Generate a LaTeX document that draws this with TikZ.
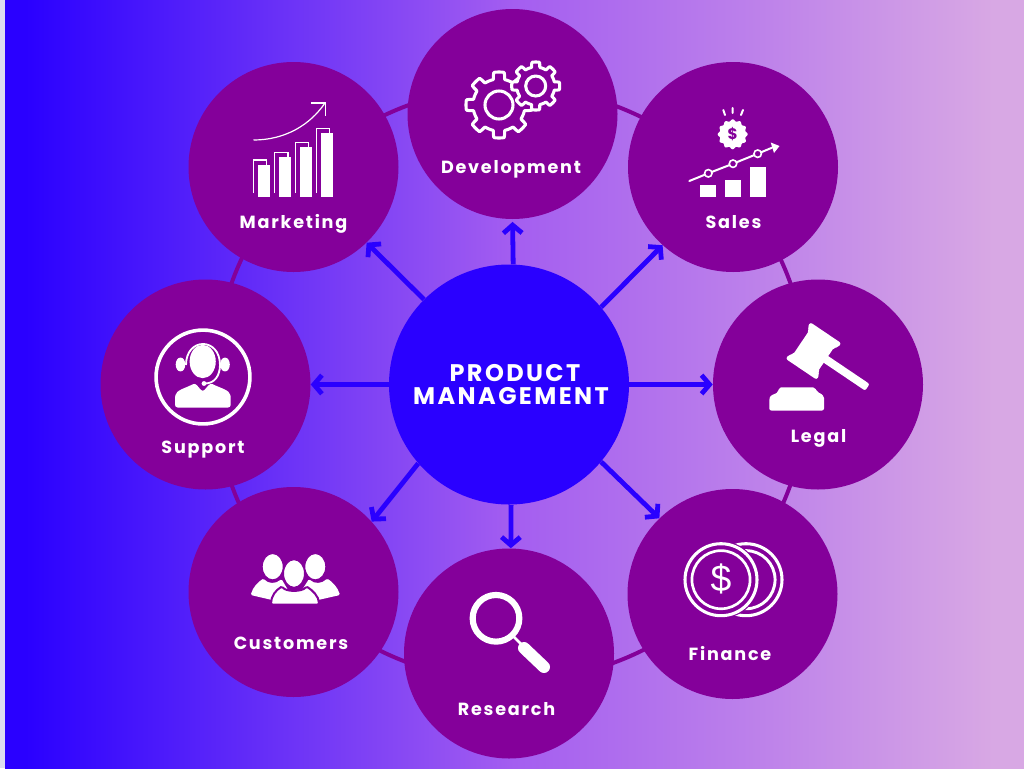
\documentclass[tikz,border=0pt]{standalone}
\usepackage{fontspec}
\setmainfont{Poppins}
\newfontfamily\dollarfont{Liberation Sans}
\usetikzlibrary{arrows.meta}
\definecolor{hub}{HTML}{2A00FF}
\definecolor{petal}{HTML}{84009A}
\definecolor{bgm}{HTML}{A45EF0}
\definecolor{bgr}{HTML}{D8A8E4}
\definecolor{edgestrip}{HTML}{DDDDF0}
\pgfdeclarehorizontalshading{bggrad}{100bp}{
 color(0bp)=(hub); color(26bp)=(hub); color(50bp)=(bgm); color(62.5bp)=(bgr!50!bgm); color(73.5bp)=(bgr); color(100bp)=(bgr)}
\tikzset{
 x=0.75pt,y=-0.75pt,
 petalnode/.style={circle,fill=petal,minimum size=157.5pt,inner sep=0pt},
 hubnode/.style={circle,fill=hub,minimum size=180pt,inner sep=0pt},
 hubtext/.style={text=white,font=\fontsize{18}{18}\selectfont\bfseries,inner sep=0pt,anchor=base},
 lab/.style={text=white,font=\fontsize{13.2}{13.2}\selectfont\bfseries,inner sep=0pt,anchor=base},
 spoke/.style={draw=hub,line width=3.6pt,-{Straight Barb[length=6pt,width=14pt,line width=3.6pt]}},
 ring/.style={draw=petal,line width=3pt},
 ico/.style={draw=white,line width=2.3pt,line join=round},
 icot/.style={draw=white,line width=0.9pt,fill=none},
 icof/.style={fill=white,draw=none},
 cutp/.style={draw=petal,line width=1pt}
}
\newcommand{\tr}[1]{\addfontfeature{LetterSpace=10}#1}
\newcommand{\gearicon}[5]{%
 \begin{scope}[shift={(#1,#2)}]
  \draw[ico,fill=petal] plot[domain=0:360,samples=241] ({\x}:{#4+(#3-#4)*min(1,max(0,(cos(8*\x)+0.15)*2.5))}) -- cycle;
  \draw[ico] (0,0) circle[radius=#5*0.75pt];
 \end{scope}}
\begin{document}
\begin{tikzpicture}
\useasboundingbox (0,0) rectangle (1024,768);
\fill[edgestrip] (0,0) rectangle (1024,768);
\shade[shading=bggrad] (5,0) rectangle (1024,768);
\coordinate (rc) at (511,384);
\draw[ring] (rc) circle[radius=222.75pt];
% nodes
\node[petalnode] (mk) at (293.5,167) {};
\node[petalnode] (dv) at (512.5,114) {};
\node[petalnode] (sl) at (733,167) {};
\node[petalnode] (lg) at (818,384.5) {};
\node[petalnode] (fn) at (732.5,594) {};
\node[petalnode] (rs) at (509,653.5) {};
\node[petalnode] (cu) at (293.5,592) {};
\node[petalnode] (su) at (205.5,384.5) {};
\node[hubnode] (hb) at (509,384.5) {};
\node[hubtext] (t1) at (515,381) {\tr{PRODUCT}};
\node[hubtext] (t2) at (511,404) {\tr{MANAGEMENT}};
% spokes
\draw[spoke] (hb.135) -- (mk.-46);
\draw[spoke,shorten >=2pt] (hb.88.3) -- (dv.-90);
\draw[spoke] (hb.40.6) -- (sl.228);
\draw[spoke] (hb.east) -- (lg.west);
\draw[spoke] (hb.-40.6) -- (fn.134);
\draw[spoke] (hb.-89) -- (rs.89);
\draw[spoke] (hb.221) -- (cu.42.5);
\draw[spoke] (hb.west) -- (su.east);
% labels
\node[lab] (lmk) at (293.5,228) {\tr{Marketing}};
\node[lab] (ldv) at (511,173) {\tr{Development}};
\node[lab] (lsl) at (733.5,228) {\tr{Sales}};
\node[lab] (llg) at (818.5,442) {\tr{Legal}};
\node[lab] (lfn) at (730,660) {\tr{Finance}};
\node[lab] (lrs) at (506.5,715) {\tr{Research}};
\node[lab] (lcu) at (291,649) {\tr{Customers}};
\node[lab] (lsu) at (203,453) {\tr{Support}};
% marketing icon
\draw[icot] (253.5,140) .. controls (285,140) and (310,125) .. (325,103);
\draw[icot] (311,103) -- (325.5,103) -- (325.5,116);
\draw[icot] (253.3,193) -- (253.3,160) -- (266.7,160) -- (266.7,165);
\draw[icot] (274.7,193) -- (274.7,152.7) -- (288,152.7) -- (288,157);
\draw[icot] (295.3,193) -- (295.3,142.3) -- (308.7,142.3) -- (308.7,147);
\draw[icot] (316.3,193) -- (316.3,128.3) -- (329.3,128.3) -- (329.3,133);
\fill[icof] (258.3,165.3) rectangle (270.3,197.3);
\fill[icof] (279,157.3) rectangle (291.3,197.3);
\fill[icof] (300,147) rectangle (312,197.3);
\fill[icof] (320.7,133) rectangle (332.7,197.3);
% development icon
\gearicon{499}{105}{33}{26}{14}
\gearicon{535.7}{86}{24}{19}{10}
% sales icon
\draw[white,line width=1.5pt,line cap=round] (723.3,110) -- (725,115) (732.7,108) -- (732.7,113) (743,110) -- (741,115);
\begin{scope}[shift={(732.7,134.3)}]
 \fill[icof] plot[domain=0:360,samples=97,smooth] ({\x}:{14+1*cos(12*\x)}) -- cycle;
\end{scope}
\node[text=petal,font=\fontsize{11.5}{11.5}\selectfont\bfseries,inner sep=0pt] (dol1) at (732.7,134.3) {\$};
\draw[white,line width=1.5pt,line cap=round] (689.3,181) -- (708.3,173.3) -- (733,163.7) -- (757.7,153.7) -- (772,147.7);
\foreach \p in {(708.3,173.3),(733,163.7),(757.7,153.7)}
 \draw[white,fill=petal,line width=1.2pt] \p circle[radius=2.8pt];
\fill[icof] (770.7,142.5) -- (779.5,146) -- (774,153) -- cycle;
\fill[icof] (700,185.3) rectangle (716,197);
\fill[icof] (725.3,180.3) rectangle (741,197);
\fill[icof] (750.3,166.7) rectangle (766,197);
% legal icon
\begin{scope}[shift={(813.5,351)},rotate=-34]
 \fill[icof,rounded corners=1.5pt] (-18.5,-22) -- (18.5,-22) -- (18.5,-17) -- (15,-14) -- (15,14) -- (18.5,17) -- (18.5,22) -- (-18.5,22) -- (-18.5,17) -- (-15,14) -- (-15,-14) -- (-18.5,-17) -- cycle;
 \fill[icof,rounded corners=1.5pt] (10,-4) rectangle (65,4);
\end{scope}
\fill[icof,rounded corners=1.5pt] (769.3,410.5) -- (769.3,400) .. controls (770,395) and (775,394) .. (778.3,392) -- (779,387.3) -- (815,387.3) -- (817,392) .. controls (822,394) and (824,396) .. (824,400) -- (824,410.5) -- cycle;
% support icon
\draw[white,line width=2.7pt] (203,377) circle[radius=35.2pt];
\fill[icof] (202.7,361.5) ellipse[x radius=9.8pt,y radius=12.5pt];
\draw[white,line width=1.4pt] (186,365) .. controls (186,337) and (220,337) .. (220,365) .. controls (220,375) and (215,384) .. (204,383.5);
\fill[icof] (180.5,364.5) ellipse[x radius=3.6pt,y radius=5.2pt];
\fill[icof] (225,364.5) ellipse[x radius=3.6pt,y radius=5.2pt];
\fill[icof,rounded corners=2pt] (175,407.5) -- (175,398) .. controls (176,390) and (186,388) .. (195,383) -- (202.7,392) -- (210.5,383) .. controls (220,388) and (230,390) .. (230.7,398) -- (230.7,407.5) -- cycle;
\fill[icof] (204,383.5) circle[radius=1.8pt];
% customers icon
\fill[icof,rounded corners=1pt] (250.7,595) .. controls (253,587) and (258,582) .. (263.5,578.5) .. controls (268,584) and (276,584) .. (281.5,579) -- (288,590) -- (272,600) -- cycle;
\fill[icof,rounded corners=1pt] (340,595) .. controls (337.5,587) and (332.5,582) .. (327,578.5) .. controls (322,584) and (314,584) .. (309,579) -- (302,590) -- (318,600) -- cycle;
\draw[cutp,fill=white] (272.7,566.7) ellipse[x radius=8pt,y radius=10pt];
\draw[cutp,fill=white] (315.3,566.7) ellipse[x radius=8pt,y radius=10pt];
\draw[petal,line width=1.5pt,fill=white,rounded corners=1pt] (271,604.5) .. controls (271,596) and (276,590) .. (282,586.5) .. controls (286,592) and (302,592) .. (306.5,586.5) .. controls (312,590) and (319,596) .. (319,604.5) -- cycle;
\draw[cutp,fill=white] (294,573.5) ellipse[x radius=8pt,y radius=10.5pt];
% finance icon
\draw[white,line width=2.3pt] (746,579.7) circle[radius=27pt];
\draw[white,line width=2.2pt] (746,579.7) circle[radius=21.8pt];
\fill[petal] (721,579.7) circle[radius=29pt];
\draw[white,line width=2.3pt] (721,579.7) circle[radius=27pt];
\draw[white,line width=2pt] (721,579.7) circle[radius=21.8pt];
\node[text=white,font=\dollarfont\fontsize{28}{28}\selectfont,inner sep=0pt] (dol2) at (721,579) {\$};
% research icon
\draw[white,line width=4.6pt] (496,618.3) circle[radius=17.5pt];
\draw[white,line width=2pt] (513,636) -- (522,645);
\draw[white,line width=9pt,line cap=round] (524,648) -- (544,667);
\end{tikzpicture}
\end{document}
